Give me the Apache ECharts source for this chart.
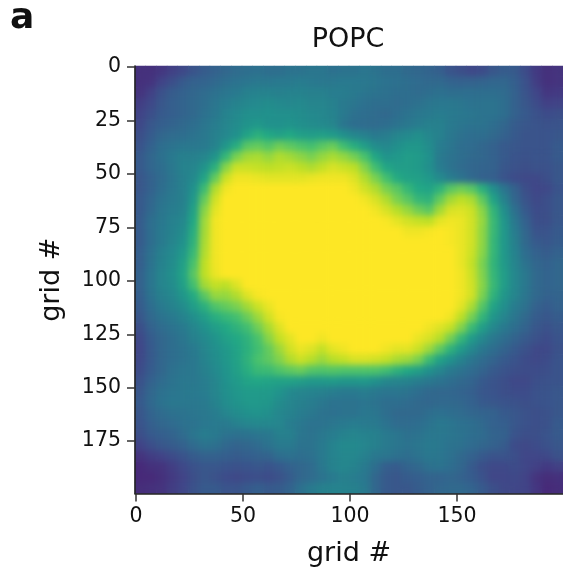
<!DOCTYPE html>
<html><head><meta charset="utf-8">
<style>html,body{margin:0;padding:0;background:#fff;overflow:hidden}#c{width:563px;height:574px}</style>
<script src="https://cdn.jsdelivr.net/npm/echarts@6/dist/echarts.min.js"></script>
</head><body><div id="c"></div>
<script>
const panelLabel = 'a';
const chartTitle = 'POPC';
const xAxisName = 'grid #';
const yAxisName = 'grid #';
const gridLength = 200;      // grid numbers along each side
const xTickStep = 50;
const yTickStep = 25;
const viridis = ['#440154','#482475','#414487','#355f8d','#2a788e','#21918c','#22a884','#44bf70','#7ad151','#bddf26','#fde725'];
// density (percent of colour range), row by row from the top; each value covers 5x5 grid numbers
const densityRows = [
[14,14,16,19,22,26,29,31,33,35, 36,37,36,36,38,38,39,39,37,38, 38,39,38,36,36,34,33,32,30,26, 24,22,23,27,29,28,23,17,14,15],
[14,15,20,24,28,31,32,34,36,38, 39,40,40,41,41,42,41,40,40,41, 41,40,39,38,37,36,35,34,34,32, 31,31,32,33,33,30,25,18,14,15],
[15,19,25,29,31,33,35,37,39,41, 43,44,44,43,44,44,43,43,42,42, 41,39,38,37,36,36,35,36,37,36, 36,36,36,36,35,31,26,21,16,17],
[18,22,27,30,32,34,36,39,42,44, 46,47,48,47,46,47,45,45,43,41, 39,37,36,36,35,36,37,39,40,40, 39,38,38,38,36,31,27,23,19,20],
[20,24,28,30,32,34,37,40,44,47, 49,49,50,49,49,48,47,46,44,41, 37,36,35,34,36,38,40,41,42,41, 40,39,38,38,36,31,28,25,23,24],
[22,27,30,32,34,36,39,42,45,48, 51,53,50,50,51,49,48,47,45,39, 36,35,35,36,38,40,42,43,43,41, 39,38,38,36,33,29,27,26,25,26],
[24,29,33,35,36,38,40,43,46,50, 58,63,60,57,60,56,55,56,54,50, 46,43,41,42,45,47,49,46,43,40, 37,36,36,34,31,28,26,26,26,27],
[26,31,36,38,40,40,41,44,52,62, 74,76,73,78,75,72,70,74,77,69, 62,55,48,46,49,52,52,48,42,39, 36,35,33,31,28,27,26,26,26,28],
[28,33,37,41,43,43,45,51,66,80, 86,87,84,88,86,83,80,84,87,84, 79,71,59,51,53,55,54,50,41,38, 36,34,33,31,28,26,25,26,26,28],
[28,33,36,40,44,45,51,63,82,92, 92,91,90,91,92,90,88,91,94,92, 90,81,69,59,55,55,54,49,42,38, 35,33,32,31,27,25,24,25,25,27],
[27,31,35,39,43,47,58,76,92,98, 98,97,96,96,96,96,97,98,98,98, 95,88,80,70,61,57,56,53,47,42, 38,34,31,30,26,23,22,22,24,27],
[27,31,36,40,43,50,68,88,98,100, 100,100,100,100,100,100,100,100,100,100, 98,93,88,80,74,66,60,58,64,74, 78,74,63,49,39,31,24,21,22,26],
[28,33,38,41,43,53,76,93,100,100, 100,100,100,100,100,100,100,100,100,100, 100,98,94,88,80,74,66,64,76,86, 90,87,75,58,44,33,26,22,24,27],
[28,34,39,42,44,57,82,96,100,100, 100,100,100,100,100,100,100,100,100,100, 100,100,98,94,89,84,78,74,86,94, 95,92,82,65,49,37,28,23,24,27],
[29,36,40,43,46,60,85,98,100,100, 100,100,100,100,100,100,100,100,100,100, 100,100,100,99,96,93,91,90,96,98, 97,93,84,67,52,40,31,24,24,27],
[29,36,41,44,48,62,86,98,100,100, 100,100,100,100,100,100,100,100,100,100, 100,100,100,100,100,98,98,99,100,99, 97,93,83,67,53,42,33,26,26,28],
[29,36,41,45,50,64,87,98,100,100, 100,100,100,100,100,100,100,100,100,100, 100,100,100,100,100,100,100,100,100,99, 97,93,83,66,53,43,34,28,27,29],
[30,37,43,47,53,67,88,98,100,100, 100,100,100,100,100,100,100,100,100,100, 100,100,100,100,100,100,100,100,100,100, 97,92,82,66,53,44,36,31,29,31],
[30,38,44,48,56,71,90,98,100,100, 100,100,100,100,100,100,100,100,100,100, 100,100,100,100,100,100,100,100,100,100, 97,91,80,65,54,45,38,33,31,33],
[31,39,45,49,58,74,90,97,100,100, 100,100,100,100,100,100,100,100,100,100, 100,100,100,100,100,100,100,100,100,100, 98,92,81,66,55,46,40,34,32,33],
[31,39,45,48,56,70,86,91,90,95, 100,100,100,100,100,100,100,100,100,100, 100,100,100,100,100,100,100,100,100,100, 98,93,82,67,55,46,40,34,32,33],
[30,38,43,46,52,61,74,84,84,88, 95,99,100,100,100,100,100,100,100,100, 100,100,100,100,100,100,100,100,100,100, 98,93,80,64,52,45,39,34,31,32],
[29,36,41,44,48,55,63,72,76,80, 86,92,97,100,100,100,100,100,100,100, 100,100,100,100,100,100,100,100,100,100, 96,87,73,58,49,42,37,31,29,31],
[27,34,38,41,44,49,55,62,66,70, 77,85,93,99,100,100,100,100,100,100, 100,100,100,100,100,100,100,100,100,98, 90,79,65,52,45,39,34,29,27,29],
[24,31,35,38,41,45,50,55,60,64, 69,78,87,95,100,100,100,100,100,100, 100,100,100,100,100,100,100,98,95,91, 81,67,55,46,41,36,32,27,25,27],
[22,29,33,36,39,43,47,51,56,60, 64,71,82,91,96,100,100,98,100,100, 100,100,100,100,100,100,97,94,89,79, 66,54,46,40,36,32,28,25,23,26],
[21,28,33,36,38,41,45,49,53,58, 63,69,76,85,93,97,95,91,96,98, 100,100,100,98,96,96,92,85,75,64, 54,46,40,36,32,28,25,22,22,25],
[22,28,33,36,38,40,44,48,52,57, 64,71,75,81,88,92,89,85,89,91, 94,94,93,91,87,85,80,68,57,50, 44,39,35,32,28,26,23,22,23,26],
[23,29,33,37,39,40,43,47,51,56, 62,67,68,72,75,77,73,72,73,72, 72,72,72,69,64,60,56,50,45,41, 38,35,32,28,26,24,23,23,24,26],
[25,31,35,38,40,40,42,45,50,54, 58,59,58,57,57,55,53,53,54,52, 52,53,50,46,45,44,42,40,38,36, 34,32,28,26,24,22,22,24,25,26],
[27,33,37,39,40,41,42,45,49,52, 54,54,54,51,47,45,44,43,42,41, 41,42,40,39,39,38,36,34,33,33, 32,30,27,26,24,23,23,25,26,27],
[28,34,38,40,40,40,41,44,48,51, 53,53,52,48,45,43,42,40,38,38, 38,39,38,36,36,35,34,33,34,34, 33,31,28,27,26,25,24,25,26,27],
[27,32,35,37,38,39,40,42,45,48, 50,51,49,46,44,42,40,38,37,38, 38,40,39,36,34,34,34,36,37,36, 35,33,32,31,28,27,25,24,25,27],
[26,30,33,35,37,38,40,41,41,43, 45,46,46,45,42,40,38,38,39,41, 42,41,41,38,35,35,36,38,40,39, 37,36,34,31,30,27,25,24,25,28],
[24,28,30,32,35,39,42,41,38,37, 38,39,40,43,43,39,38,40,42,44, 45,44,43,41,39,37,38,40,40,39, 38,36,35,32,31,26,24,24,26,28],
[20,24,27,29,31,35,38,37,34,32, 33,35,38,41,41,38,38,41,44,47, 47,45,43,41,39,38,39,41,40,38, 37,35,33,31,29,23,22,23,25,27],
[15,18,20,23,26,29,31,31,30,29, 30,31,32,36,37,36,37,41,44,46, 46,43,40,39,37,36,38,40,39,37, 34,31,28,26,26,24,21,21,22,25],
[12,14,15,18,22,25,27,27,26,25, 26,27,26,28,31,33,35,40,44,46, 44,41,36,30,29,32,34,37,38,36, 33,28,24,22,22,23,21,19,17,19],
[12,12,14,17,20,24,27,25,23,22, 23,24,23,25,29,33,35,38,41,43, 42,40,33,28,27,29,30,32,32,33, 31,29,25,21,21,22,20,15,13,14],
[13,14,15,18,21,25,28,28,26,26, 28,30,28,29,32,37,41,43,44,44, 43,41,33,28,27,27,29,31,33,34, 34,32,28,24,22,21,20,16,12,13]
];

const gridNumbers = Array.from({length: gridLength}, (_, i) => String(i));
const cells = [];
densityRows.forEach((row, y) => row.forEach((value, x) => cells.push([x, y, value])));
const columnIds = densityRows[0].map((_, i) => String(i));
const rowIds = densityRows.map((_, i) => String(i));

const spine = {show: true, onZero: false, lineStyle: {color: '#222', width: 1.6}};
const tick = {show: true, alignWithLabel: true, length: 8, lineStyle: {color: '#333', width: 1.5}};
const font = 'DejaVu Sans';
const hiddenAxis = {type: 'category', show: false, axisLine: {show: false}, axisTick: {show: false}, axisLabel: {show: false}, splitLine: {show: false}};
const heat = zlevel => ({
  type: 'heatmap', data: cells, xAxisIndex: 1, yAxisIndex: 1, zlevel, progressive: 0,
  silent: true, emphasis: {disabled: true}, itemStyle: {borderWidth: 0}
});
const chart = echarts.init(document.getElementById('c'), null, {renderer: 'canvas'});
chart.setOption({
  animation: false,
  backgroundColor: 'transparent',
  title: [
    {text: chartTitle, left: 343, top: 21, textAlign: 'center', zlevel: 2, textStyle: {fontFamily: font, fontSize: 27, fontWeight: 'normal', color: '#111'}},
    {text: panelLabel, left: 5, top: -4, zlevel: 2, textStyle: {fontFamily: font, fontSize: 36, fontWeight: 'bold', color: '#111'}}
  ],
  grid: {left: 135, top: 66, width: 429.5, height: 427.5, containLabel: false},
  xAxis: [{
    type: 'category', data: gridNumbers, position: 'bottom', zlevel: 2,
    name: xAxisName, nameLocation: 'middle', nameGap: 47,
    nameTextStyle: {fontFamily: font, fontSize: 27, color: '#111'},
    axisLine: spine, axisTick: tick, splitLine: {show: false}, splitArea: {show: false},
    axisLabel: {fontFamily: font, fontSize: 20.5, color: '#111', margin: 13, interval: xTickStep - 1}
  }, Object.assign({data: columnIds}, hiddenAxis)],
  yAxis: [{
    type: 'category', data: gridNumbers, inverse: true, position: 'left', zlevel: 2,
    name: yAxisName, nameLocation: 'middle', nameGap: 70, nameRotate: 90,
    nameTextStyle: {fontFamily: font, fontSize: 27, color: '#111'},
    axisLine: spine, axisTick: tick, splitLine: {show: false}, splitArea: {show: false},
    axisLabel: {fontFamily: font, fontSize: 20.5, color: '#111', margin: 14, interval: yTickStep - 1}
  }, Object.assign({data: rowIds, inverse: true}, hiddenAxis)],
  visualMap: {show: false, type: 'continuous', min: 0, max: 100, dimension: 2, seriesIndex: [0, 1], inRange: {color: viridis}},
  series: [heat(0), heat(1)]
});
// soften the upper heatmap layer like the resampled image in the reference, trimmed to the plot area
const soft = document.querySelector('canvas[data-zr-dom-id="zr_1"]');
if (soft) {
  soft.style.filter = 'blur(3px)';
  soft.style.clipPath = 'inset(66px 0 80.5px 135px)';
}
</script></body></html>
